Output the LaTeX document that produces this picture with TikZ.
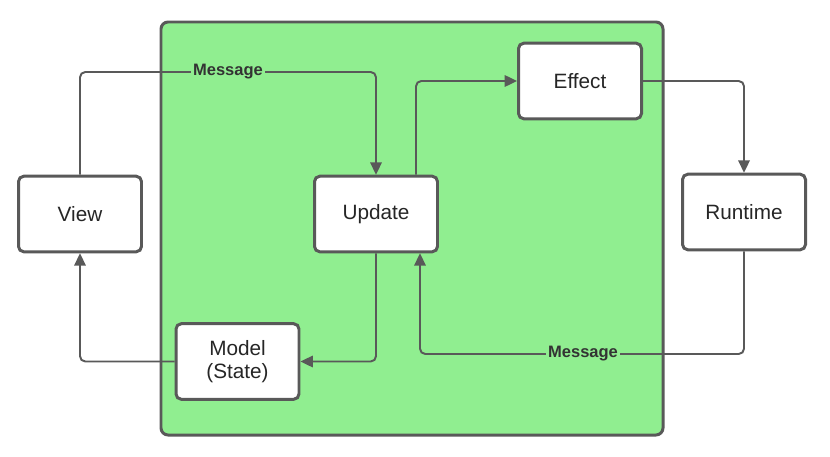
\documentclass[tikz,border=0pt]{standalone}
\usepackage{fontspec}
\setmainfont{Liberation Sans}
\usepackage{xcolor}
\usetikzlibrary{arrows.meta}
\definecolor{bordo}{HTML}{595959}
\definecolor{verde}{HTML}{90EE90}
\tikzset{
	blocco/.style={draw=bordo, line width=1.7pt, fill=white, rounded corners=3pt,
		minimum width=70pt, minimum height=43pt, inner sep=0pt, align=center,
		font=\fontsize{11.8}{13.5}\selectfont, text=black!85},
	freccia/.style={draw=bordo, line width=1.1pt, rounded corners=3pt,
		-{Triangle[length=7pt,width=6.5pt]}},
	etichetta/.style={fill=verde, inner sep=1pt, font=\bfseries\fontsize{9.4}{11}\selectfont, text=black!80}
}
\begin{document}
	\begin{tikzpicture}[x=0.02cm, y=-0.02cm]
		\useasboundingbox (0,0) rectangle (830,456);
		%\draw [help lines, step=50] (0,0) grid (830,456);
		
		%RIQUADRO
		\draw [draw=bordo, line width=1.7pt, fill=verde, rounded corners=4pt] (161,22) rectangle (663,435);
		
		%BLOCCHI
		\node [blocco] (view) at (80,214) {View};
		\node [blocco] (update) at (376,214) {Update};
		\node [blocco] (effect) at (580,81) {Effect};
		\node [blocco] (runtime) at (744,212) {Runtime};
		\node [blocco] (model) at (237.5,361.5) {Model\\(State)};
		
		%FRECCE
		\draw [freccia] (view.north) |- (228,72) coordinate (m1) -| (update.north);
		\node [etichetta] at (m1) {Message};
		\draw [freccia] ([xshift=0.8cm]update.north) |- (effect.west);
		\draw [freccia] (effect.east) -| (runtime.north);
		\draw [freccia] (runtime.south) |- (583,354) coordinate (m2) -| ([xshift=0.88cm]update.south);
		\node [etichetta] at (m2) {Message};
		\draw [freccia] (update.south) |- (model.east);
		\draw [freccia] (model.west) -| (view.south);
		
	\end{tikzpicture}
\end{document}
